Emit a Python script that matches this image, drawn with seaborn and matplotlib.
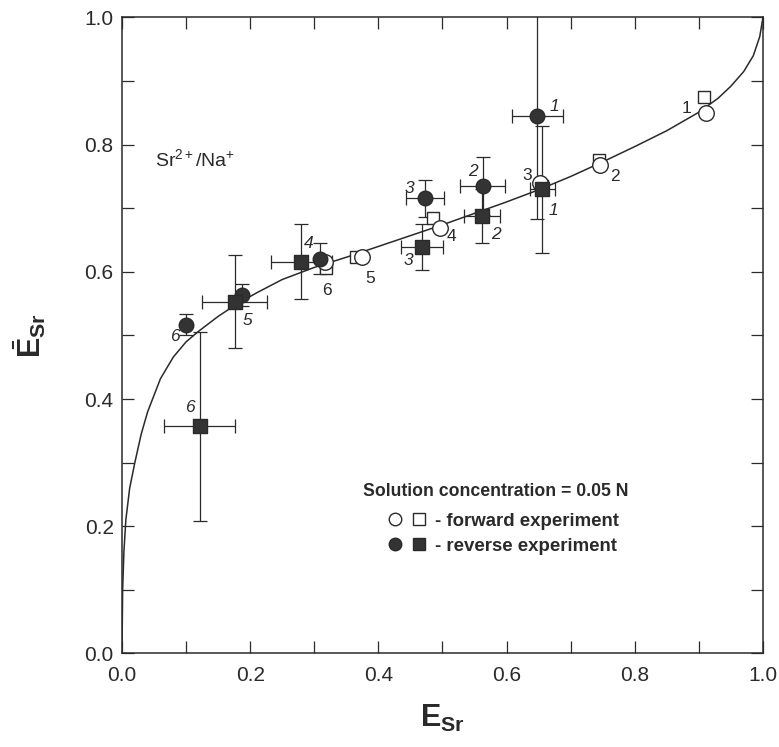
import numpy as np
import pandas as pd
import matplotlib
matplotlib.use("Agg")
import matplotlib.pyplot as plt
import seaborn as sns
from matplotlib.lines import Line2D
from matplotlib.legend_handler import HandlerTuple

sns.set_style('ticks')
plt.rcParams['font.family'] = ['Liberation Sans', 'DejaVu Sans']
plt.rcParams['mathtext.fontset'] = 'custom'
plt.rcParams['mathtext.rm'] = 'Liberation Sans'
plt.rcParams['mathtext.it'] = 'Liberation Sans:italic'
plt.rcParams['mathtext.bf'] = 'Liberation Sans:bold'

# isotherm curve
curve_x = [0.0, 0.001, 0.003, 0.006, 0.012, 0.02, 0.03, 0.04, 0.06, 0.08, 0.10, 0.12,
           0.15, 0.18, 0.21, 0.25, 0.30, 0.35, 0.40, 0.45, 0.50, 0.55, 0.60, 0.65,
           0.70, 0.75, 0.80, 0.85, 0.90, 0.93, 0.95, 0.97, 0.985, 0.995, 1.0]
curve_y = [0.0, 0.10, 0.16, 0.21, 0.26, 0.30, 0.345, 0.38, 0.432, 0.466, 0.490, 0.507,
           0.530, 0.550, 0.567, 0.588, 0.607, 0.623, 0.640, 0.657, 0.674, 0.692, 0.710, 0.729,
           0.750, 0.773, 0.797, 0.822, 0.851, 0.873, 0.892, 0.915, 0.940, 0.970, 1.0]

labels = ['1', '2', '3', '4', '5', '6']

# forward experiment
fwd_circ_x = [0.911, 0.746, 0.652, 0.496, 0.374, 0.317]
fwd_circ_y = [0.850, 0.768, 0.739, 0.669, 0.623, 0.616]
fwd_sq_x = [0.908, 0.744, 0.655, 0.485, 0.365, 0.319]
fwd_sq_y = [0.875, 0.776, 0.735, 0.684, 0.623, 0.606]
fwd_lab_x = [0.880, 0.769, 0.632, 0.514, 0.387, 0.320]
fwd_lab_y = [0.857, 0.750, 0.752, 0.655, 0.590, 0.571]

# reverse experiment
rev_circ_x = [0.648, 0.563, 0.473, 0.309, 0.188, 0.100]
rev_circ_y = [0.845, 0.735, 0.716, 0.621, 0.564, 0.517]
rev_circ_xerr = [0.040, 0.035, 0.030, 0.0, 0.0, 0.0]
rev_circ_yerr = [0.162, 0.045, 0.029, 0.024, 0.017, 0.016]
rev_sq_x = [0.656, 0.561, 0.468, 0.280, 0.176, 0.121]
rev_sq_y = [0.730, 0.688, 0.639, 0.616, 0.553, 0.357]
rev_sq_xerr = [0.020, 0.028, 0.033, 0.047, 0.051, 0.056]
rev_sq_yerr = [0.100, 0.042, 0.036, 0.059, 0.073, 0.148]
rev_circ_lab_x = [0.675, 0.547, 0.449, 0.292, 0.0, 0.082]
rev_circ_lab_y = [0.860, 0.758, 0.731, 0.645, 0.0, 0.498]
rev_sq_lab_x = [0.673, 0.583, 0.447, 0.0, 0.195, 0.106]
rev_sq_lab_y = [0.697, 0.658, 0.618, 0.0, 0.524, 0.386]

ink = '#2a2a2a'

fig = plt.figure(figsize=(7.79, 7.47), dpi=100)
ax = fig.add_axes([0.1566, 0.1252, 0.8228, 0.8514])

curve = pd.DataFrame({'x': curve_x, 'y': curve_y})
sns.lineplot(data=curve, x='x', y='y', sort=False, color=ink, lw=1.1, ax=ax)

# error bars for reverse runs
ax.errorbar(rev_circ_x, rev_circ_y, xerr=rev_circ_xerr, yerr=rev_circ_yerr, fmt='none',
            ecolor=ink, elinewidth=0.9, capsize=5, capthick=0.9, zorder=2)
ax.errorbar(rev_sq_x, rev_sq_y, xerr=rev_sq_xerr, yerr=rev_sq_yerr, fmt='none',
            ecolor=ink, elinewidth=0.9, capsize=5, capthick=0.9, zorder=2)

sns.scatterplot(x=fwd_sq_x, y=fwd_sq_y, marker='s', s=75, facecolor='white',
                edgecolor=ink, linewidth=1.0, ax=ax, zorder=3)
sns.scatterplot(x=fwd_circ_x, y=fwd_circ_y, marker='o', s=125, facecolor='white',
                edgecolor=ink, linewidth=1.0, ax=ax, zorder=4)
sns.scatterplot(x=rev_circ_x, y=rev_circ_y, marker='o', s=110, color='#333333',
                edgecolor=ink, linewidth=1.0, ax=ax, zorder=5)
sns.scatterplot(x=rev_sq_x, y=rev_sq_y, marker='s', s=90, color='#333333',
                edgecolor=ink, linewidth=1.0, ax=ax, zorder=5)

for lab, x, y in zip(labels, fwd_lab_x, fwd_lab_y):
    ax.text(x, y, lab, fontsize=12.5, color=ink, ha='center', va='center')
for lab, x, y in zip(labels, rev_circ_lab_x, rev_circ_lab_y):
    if x > 0:
        ax.text(x, y, lab, fontsize=12.5, style='italic', color=ink, ha='center', va='center')
for lab, x, y in zip(labels, rev_sq_lab_x, rev_sq_lab_y):
    if x > 0:
        ax.text(x, y, lab, fontsize=12.5, style='italic', color=ink, ha='center', va='center')

ax.text(0.052, 0.778, r'Sr$^{2+}$/Na$^{+}$', fontsize=14, color=ink, va='center')

# legend block
h_fwd = (Line2D([], [], ls='none', marker='o', ms=9, mfc='white', mec=ink, mew=1.0),
         Line2D([], [], ls='none', marker='s', ms=8, mfc='white', mec=ink, mew=1.0))
h_rev = (Line2D([], [], ls='none', marker='o', ms=9, mfc='#333333', mec=ink, mew=1.0),
         Line2D([], [], ls='none', marker='s', ms=8, mfc='#333333', mec=ink, mew=1.0))
leg = ax.legend([h_fwd, h_rev], ['- forward experiment  ', '- reverse experiment  '],
                handler_map={tuple: HandlerTuple(ndivide=None, pad=0.6)},
                title='Solution concentration = 0.05 N', frameon=False,
                loc='upper left', bbox_to_anchor=(0.365, 0.279), handlelength=2.0,
                handletextpad=0.5, labelspacing=0.42, borderaxespad=0,
                prop={'size': 13.4, 'weight': 'bold'},
                title_fontproperties={'size': 12.7, 'weight': 'bold'})
leg._legend_box.align = 'right'
leg._legend_box.sep = 9
for t in leg.get_texts():
    t.set_color(ink)
leg.get_title().set_color(ink)

ax.set_xlim(0, 1)
ax.set_ylim(0, 1)
ax.set_xticks(np.arange(0, 1.01, 0.2))
ax.set_yticks(np.arange(0, 1.01, 0.2))
ax.set_xticks(np.arange(0.1, 1.0, 0.2), minor=True)
ax.set_yticks(np.arange(0.1, 1.0, 0.2), minor=True)
ax.set_xticklabels(['0.0', '0.2', '0.4', '0.6', '0.8', '1.0'])
ax.set_yticklabels(['0.0', '0.2', '0.4', '0.6', '0.8', '1.0'])
ax.tick_params(which='both', direction='in', length=8.5, width=0.9, color=ink,
               top=True, right=True, labelsize=15, labelcolor=ink)
ax.tick_params(axis='x', pad=9)
ax.tick_params(axis='y', pad=6)
for sp in ax.spines.values():
    sp.set_color(ink)
    sp.set_linewidth(1.1)

ax.set_xlabel(r'$\mathbf{E}_{\mathbf{Sr}}$', fontsize=22, color=ink, labelpad=13)
ax.set_ylabel(r'$\bar{\mathbf{E}}_{\mathbf{Sr}}$', fontsize=22, color=ink, labelpad=26)

fig.savefig('out.png', dpi=100)
